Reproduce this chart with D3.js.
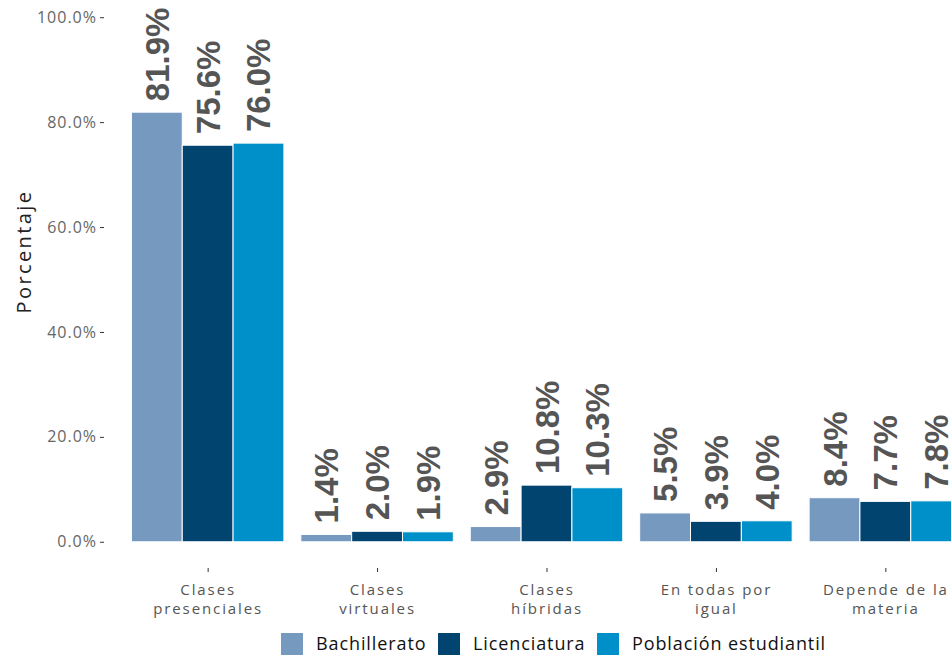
<!DOCTYPE html>
<html>
<head>
<meta charset="utf-8">
<script src="https://cdn.jsdelivr.net/npm/d3@7"></script>
<style>
  html, body { margin: 0; padding: 0; background: #fff; }
  svg { display: block; }
</style>
</head>
<body>
<svg id="chart" width="951" height="669"></svg>
<script>
// Modalidad preferida de clases, por nivel educativo
const categories = [
  ["Clases", "presenciales"],
  ["Clases", "virtuales"],
  ["Clases", "híbridas"],
  ["En todas por", "igual"],
  ["Depende de la", "materia"]
];
const seriesNames = ["Bachillerato", "Licenciatura", "Población estudiantil"];
const bachillerato = [81.9, 1.4, 2.9, 5.5, 8.4];
const licenciatura = [75.6, 2.0, 10.8, 3.9, 7.7];
const poblacion = [76.0, 1.9, 10.3, 4.0, 7.8];
const yTicks = [0, 20, 40, 60, 80, 100];
const colors = ["#7699c0", "#00446f", "#0090c9"];

const seriesValues = [bachillerato, licenciatura, poblacion];
const catKeys = categories.map(c => c.join(" "));

const svg = d3.select("#chart");
const W = 951, H = 669;

// Panel extents (right side runs past the canvas edge)
const panel = { left: 106, right: 987, top: -9, bottom: 568 };

const x = d3.scalePoint()
  .domain(catKeys)
  .range([panel.left, panel.right])
  .padding(0.6);
const step = x.step();

const xInner = d3.scaleBand()
  .domain(seriesNames)
  .range([-0.45 * step, 0.45 * step])
  .padding(0);

const y = d3.scaleLinear()
  .domain([-5, 105])
  .range([panel.bottom, panel.top]);

const axisFont = "'Open Sans', sans-serif";

// Y axis
const yAxis = svg.append("g")
  .attr("transform", `translate(${panel.left - 2},0)`)
  .call(d3.axisLeft(y).tickValues(yTicks).tickSize(4).tickPadding(3)
    .tickFormat(d => d3.format(".1f")(d) + "%"));
yAxis.select(".domain").remove();
yAxis.selectAll(".tick line").attr("stroke", "#333").attr("stroke-width", 1);
yAxis.selectAll(".tick text")
  .attr("fill", "#666")
  .style("font-family", axisFont)
  .style("font-size", "16px")
  .style("letter-spacing", "1px");

svg.append("text")
  .attr("transform", `translate(31,${(y(0) + y(100)) / 2 - 28}) rotate(-90)`)
  .attr("text-anchor", "middle")
  .attr("fill", "#222")
  .style("font-family", axisFont)
  .style("font-size", "20px")
  .style("letter-spacing", "2.4px")
  .text("Porcentaje");

// X axis
const xAxis = svg.append("g")
  .attr("transform", `translate(0,${panel.bottom})`)
  .call(d3.axisBottom(x).tickSize(4).tickFormat(() => ""));
xAxis.select(".domain").remove();
xAxis.selectAll(".tick line").attr("stroke", "#333");
xAxis.selectAll(".tick").each(function(d, i) {
  const tick = d3.select(this);
  categories[i].forEach((line, k) => {
    tick.append("text")
      .attr("x", 0)
      .attr("y", 27 + k * 19)
      .attr("text-anchor", "middle")
      .attr("fill", "#555")
      .style("font-family", axisFont)
      .style("font-size", "15px")
      .style("letter-spacing", "1.9px")
      .text(line);
  });
});

// Bars and value labels
const rows = [];
catKeys.forEach((c, i) => {
  seriesNames.forEach((s, j) => {
    rows.push({ cat: c, series: s, value: seriesValues[j][i], color: colors[j] });
  });
});

const groups = svg.append("g");
groups.selectAll("rect")
  .data(rows)
  .join("rect")
  .attr("x", d => x(d.cat) + xInner(d.series))
  .attr("width", xInner.bandwidth())
  .attr("y", d => y(d.value))
  .attr("height", d => y(0) - y(d.value))
  .attr("fill", d => d.color)
  .attr("stroke", "#fff")
  .attr("stroke-width", 1);

groups.selectAll("text.val")
  .data(rows)
  .join("text")
  .attr("class", "val")
  .attr("transform", d => `translate(${x(d.cat) + xInner(d.series) + xInner.bandwidth() / 2 + 12},${y(d.value) - 11}) rotate(-90)`)
  .attr("text-anchor", "start")
  .attr("fill", "#555")
  .style("font-family", "'Liberation Sans', Arial, sans-serif")
  .style("font-weight", "bold")
  .style("font-size", "33px")
  .text(d => d3.format(".1f")(d.value) + "%");

// Legend
const legend = svg.append("g").attr("transform", `translate(0,${H - 25})`);
const legendX = [281, 438, 597];
seriesNames.forEach((s, j) => {
  const g = legend.append("g").attr("transform", `translate(${legendX[j]},0)`);
  g.append("rect").attr("x", 0).attr("y", -11).attr("width", 22).attr("height", 22).attr("fill", colors[j]);
  g.append("text").attr("x", 35).attr("y", 6)
    .attr("fill", "#111")
    .style("font-family", axisFont)
    .style("font-size", "18px")
    .style("letter-spacing", "0.9px")
    .text(s);
});
</script>
</body>
</html>
